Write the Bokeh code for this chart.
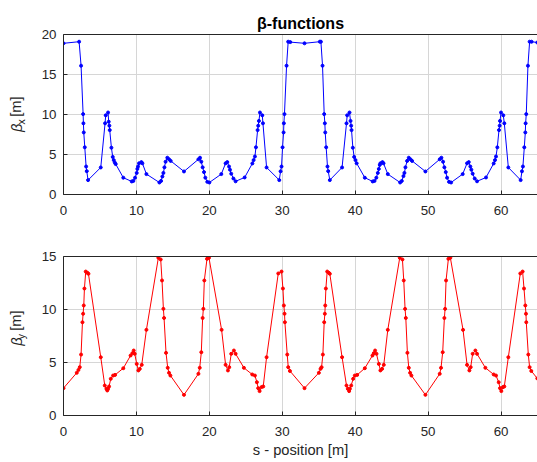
import math
from bokeh.plotting import figure
from bokeh.models import Range1d, LinearAxis, Label, FixedTicker
from bokeh.layouts import column, row
from bokeh.embed import file_html
from bokeh.resources import INLINE

# ---- data: beta_x ----
s_x = [0, 2.14, 2.41, 2.69, 2.73, 2.78, 2.92, 3.10, 3.19, 3.37,
       5.11, 5.70, 5.79, 6.11, 6.20, 6.29, 6.34, 6.57, 6.75, 6.89, 7.03, 7.16,
       8.20, 9.36, 9.58, 9.81, 10.04, 10.13, 10.22, 10.36, 10.68, 10.82, 11.37,
       13.15, 13.38, 13.56, 13.70, 13.84, 14.00, 14.24, 14.47, 14.70,
       16.52,
       18.50, 18.72, 18.90, 19.08, 19.27, 19.45, 19.72, 20.00,
       21.64, 22.23, 22.46, 22.70, 22.83, 23.00, 23.30, 23.60, 24.84,
       25.90, 26.07, 26.25, 26.39, 26.62, 26.70, 26.80, 26.94, 27.26, 27.35, 27.85,
       29.59, 29.77, 29.90, 30.04, 30.18, 30.22, 30.30, 30.59, 30.81, 31.10,
       33.05, 35.15, 35.30,
       35.52, 35.75, 35.84, 35.89, 36.02, 36.20, 36.30, 36.52,
       38.20, 38.81, 38.90, 39.22, 39.36, 39.45, 39.50, 39.68, 39.86, 40.04, 40.20,
       41.32, 42.40, 42.65, 42.90, 43.10, 43.24, 43.37, 43.46, 43.74, 43.88, 44.47,
       46.16, 46.39, 46.62, 46.75, 46.89, 47.12, 47.35, 47.58, 47.80,
       49.63,
       51.59, 51.82, 52.05, 52.23, 52.42, 52.60, 52.87, 53.15,
       54.74, 55.34, 55.57, 55.79, 55.93, 56.11, 56.39, 56.71, 57.94,
       58.99, 59.17, 59.31, 59.49, 59.72, 59.81, 59.86, 60.00, 60.31, 60.45, 61.00,
       62.69, 62.87, 63.00, 63.19, 63.33, 63.37, 63.46, 63.69, 63.92, 64.19, 64.97]
beta_x = [18.9, 19.1, 16.1, 10.05, 8.9, 7.76, 5.9, 3.5, 2.92, 1.8,
          3.38, 8.9, 9.9, 10.25, 9.1, 8.6, 8.05, 5.85, 4.7, 4.3, 4.0, 3.8,
          2.1, 1.63, 1.7, 2.1, 2.7, 3.2, 3.5, 3.9, 4.05, 3.9, 2.55,
          1.5, 1.7, 2.25, 2.7, 3.4, 4.1, 4.6, 4.4, 4.2,
          2.88,
          4.4, 4.6, 4.1, 3.4, 2.8, 2.1, 1.58, 1.5,
          2.55, 3.9, 4.05, 3.5, 3.1, 2.6, 2.0, 1.65, 2.13,
          3.88, 4.3, 4.75, 5.9, 8.05, 8.6, 9.2, 10.25, 9.9, 8.9, 3.38,
          1.8, 2.9, 3.5, 5.9, 7.76, 8.9, 10.05, 16.1, 19.1, 19.05,
          18.9, 19.1, 19.1,
          16.1, 10.05, 8.9, 7.76, 5.9, 3.5, 2.92, 1.8,
          3.38, 8.9, 9.9, 10.25, 9.2, 8.6, 8.05, 5.85, 4.7, 4.3, 3.9,
          2.1, 1.63, 1.7, 2.1, 2.7, 3.2, 3.7, 3.9, 4.05, 3.9, 2.55,
          1.5, 1.7, 2.3, 2.7, 3.4, 4.2, 4.6, 4.4, 4.2,
          2.88,
          4.4, 4.6, 4.1, 3.4, 2.8, 2.1, 1.58, 1.5,
          2.55, 3.9, 4.05, 3.5, 3.1, 2.6, 2.0, 1.65, 2.13,
          3.88, 4.3, 4.75, 5.9, 8.05, 8.6, 9.2, 10.25, 9.9, 8.9, 3.38,
          1.8, 2.9, 3.5, 5.9, 7.76, 8.9, 10.05, 16.1, 19.1, 19.1, 19.0]

# ---- data: beta_y ----
s_y = [0,
       1.82, 2.05, 2.23, 2.41, 2.60, 2.69, 2.78, 2.87, 3.05, 3.28, 3.42,
       5.11, 5.66, 5.89, 6.00, 6.11, 6.25, 6.48, 6.80, 7.07, 8.20,
       9.20, 9.45, 9.63, 9.77, 10.04, 10.27, 10.46, 10.73, 11.37,
       13.01, 13.33, 13.51, 13.70, 13.79, 14.06, 14.29, 14.47, 14.66,
       16.52,
       18.50, 18.68, 18.90, 19.08, 19.18, 19.31, 19.68, 19.95,
       21.68, 22.23, 22.55, 22.73, 23.00, 23.37, 23.60, 24.74,
       25.88, 26.25, 26.52, 26.70, 26.89, 27.16, 27.39, 27.85,
       29.45, 29.90, 30.09, 30.22, 30.31, 30.36, 30.68, 30.82, 31.05,
       33.05,
       35.02, 35.25, 35.39, 35.57, 35.75, 35.84, 35.89, 35.98, 36.16, 36.39, 36.52,
       38.20, 38.81, 38.99, 39.17, 39.27, 39.45, 39.72, 39.95, 40.27, 41.32,
       42.37, 42.55, 42.73, 42.92, 43.24, 43.46, 43.69, 43.92, 44.47,
       46.11, 46.48, 46.66, 46.84, 46.94, 47.16, 47.35, 47.53, 47.71,
       49.63,
       51.59, 51.77, 52.00, 52.23, 52.33, 52.46, 52.78, 53.05,
       54.79, 55.34, 55.66, 55.84, 56.11, 56.48, 56.71, 57.85,
       58.99, 59.31, 59.68, 59.86, 60.04, 60.27, 60.45, 61.00,
       62.64, 62.96, 63.15, 63.33, 63.42, 63.46, 63.74, 63.92, 64.15, 64.97]
beta_y = [2.58,
          4.03, 4.3, 4.56, 5.75, 8.8, 9.6, 10.38, 11.98, 13.58, 13.46, 13.37,
          5.5, 2.83, 2.52, 2.36, 2.52, 2.74, 3.46, 3.77, 3.83, 4.46,
          5.66, 5.88, 6.13, 5.82, 4.87, 4.25, 4.4, 4.78, 8.08,
          14.88, 14.72, 12.74, 10.06, 9.2, 5.91, 4.5, 4.03, 3.77,
          1.95,
          3.93, 4.5, 5.97, 9.2, 10.06, 12.74, 14.78, 14.88,
          8.08, 4.78, 4.25, 4.56, 5.82, 6.13, 5.82, 4.5,
          3.87, 3.77, 3.14, 2.58, 2.3, 2.68, 2.74, 5.5,
          13.4, 13.58, 11.98, 10.38, 9.6, 8.8, 5.75, 4.56, 4.2,
          2.58,
          4.03, 4.4, 4.56, 5.75, 8.8, 9.6, 10.38, 11.98, 13.58, 13.46, 13.37,
          5.5, 2.83, 2.52, 2.3, 2.52, 2.83, 3.46, 3.77, 3.83, 4.46,
          5.66, 5.88, 6.13, 5.82, 4.87, 4.25, 4.4, 4.78, 8.08,
          14.88, 14.72, 12.74, 10.06, 9.2, 5.91, 4.5, 4.03, 3.77,
          1.95,
          3.93, 4.5, 5.97, 9.2, 10.06, 12.74, 14.78, 14.88,
          8.08, 4.78, 4.25, 4.56, 5.82, 6.13, 5.82, 4.5,
          3.87, 3.77, 3.14, 2.58, 2.3, 2.68, 2.74, 5.5,
          13.4, 13.58, 11.98, 10.38, 9.6, 8.8, 5.75, 4.56, 4.2, 3.5]

x_ticks = [0, 10, 20, 30, 40, 50, 60]
yx_ticks = [0, 5, 10, 15, 20]
yy_ticks = [0, 5, 10, 15]

FONT = "Liberation Sans"
AX = "#262626"
GRID = "#d6d6d6"
W = 537
LABW = 29
LEFT = 63


def style(p, yticks):
    p.outline_line_color = None
    p.xaxis.ticker = FixedTicker(ticks=x_ticks)
    p.yaxis.ticker = FixedTicker(ticks=yticks)
    p.xgrid.ticker = FixedTicker(ticks=x_ticks)
    p.ygrid.ticker = FixedTicker(ticks=yticks)
    for g in (p.xgrid, p.ygrid):
        g.grid_line_color = GRID
        g.grid_line_width = 1
    for ax in (p.xaxis, p.yaxis):
        ax.axis_line_color = AX
        ax.major_tick_line_color = AX
        ax.major_tick_in = 4
        ax.major_tick_out = 0
        ax.minor_tick_line_color = None
        ax.major_label_text_font = FONT
        ax.major_label_text_font_size = "13.3px"
        ax.major_label_text_color = AX
    p.xaxis.major_label_standoff = 11
    p.yaxis.major_label_standoff = 7
    top = LinearAxis(ticker=FixedTicker(ticks=[]))
    top.axis_line_color = AX
    top.minor_tick_line_color = None
    top.major_tick_line_color = None
    p.add_layout(top, "above")


def label_fig(height, sub, y_beta, y_sub, y_unit):
    f = figure(width=LABW, height=height, x_range=Range1d(0, LABW),
               y_range=Range1d(0, height), x_axis_type=None, y_axis_type=None,
               output_backend="svg", toolbar_location=None, min_border=0,
               title_location=None)
    f.grid.visible = False
    f.outline_line_color = None
    common = dict(angle=math.pi / 2, angle_units="rad", text_align="left",
                  text_baseline="middle", text_font=FONT, text_color=AX)
    f.add_layout(Label(x=16, y=y_beta, text="β", text_font_size="14.7px",
                       text_font_style="italic", **common))
    f.add_layout(Label(x=20.3, y=y_sub, text=sub, text_font_size="10.5px", **common))
    f.add_layout(Label(x=15.5, y=y_unit, text="[m]", text_font_size="14.7px", **common))
    return f


# ---- top figure ----
H1 = 225
p1 = figure(width=W - LABW, height=H1, x_range=Range1d(0, 65), y_range=Range1d(0, 20),
            output_backend="svg", toolbar_location=None, title="β-functions",
            min_border_left=LEFT - LABW, min_border_right=0, min_border_top=34,
            min_border_bottom=31)
p1.title.align = "center"
p1.title.text_font = FONT
p1.title.text_font_size = "16px"
p1.title.text_font_style = "bold"
p1.title.text_color = "black"
p1.title.standoff = 6
style(p1, yx_ticks)
p1.line(s_x, beta_x, line_color="#0000ff", line_width=1)
p1.scatter(s_x, beta_x, size=3, line_width=1, fill_color="#0000ff", line_color="#0000ff")
l1 = label_fig(H1, "x", 88, 98.5, 109.3)

# ---- bottom figure ----
H2 = 237
p2 = figure(width=W - LABW, height=H2, x_range=Range1d(0, 65), y_range=Range1d(0, 15),
            output_backend="svg", toolbar_location=None, title_location=None,
            min_border_left=LEFT - LABW, min_border_right=0, min_border_top=31,
            min_border_bottom=47)
style(p2, yy_ticks)
p2.line(s_y, beta_y, line_color="#ff0000", line_width=1)
p2.scatter(s_y, beta_y, size=3, line_width=1, fill_color="#ff0000", line_color="#ff0000")
xa = p2.below[0]
xa.axis_label = "s - position [m]"
xa.axis_label_text_font = FONT
xa.axis_label_text_font_size = "14.7px"
xa.axis_label_text_font_style = "normal"
xa.axis_label_text_color = AX
xa.axis_label_standoff = 3
l2 = label_fig(H2, "y", 104, 113.5, 126.3)

layout = column(row(l1, p1, spacing=0), row(l2, p2, spacing=0), spacing=0)
open("out.html", "w").write(file_html(layout, INLINE))
